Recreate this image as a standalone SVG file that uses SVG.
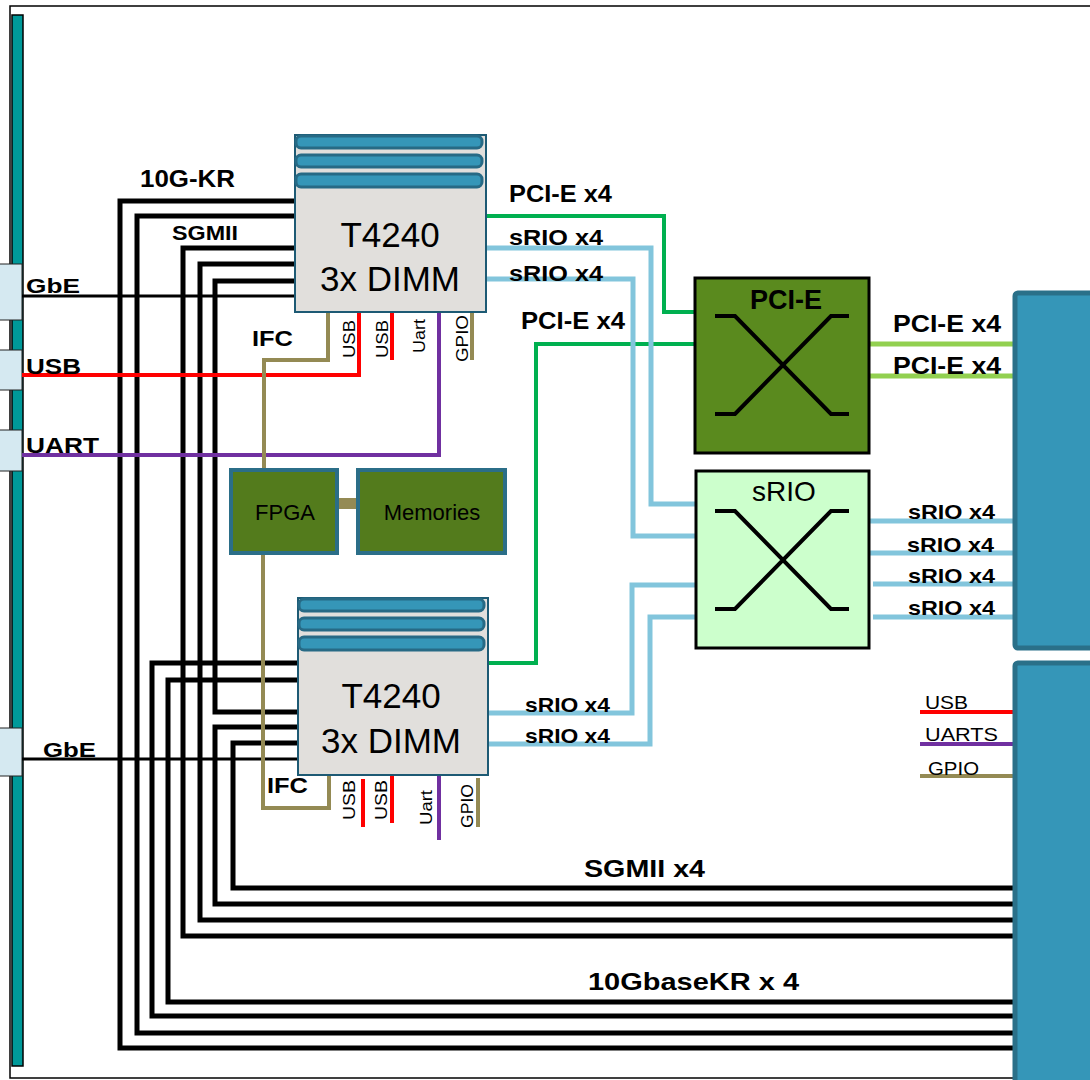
<svg xmlns="http://www.w3.org/2000/svg" width="1090" height="1080" viewBox="0 0 1090 1080">
<defs>
<style>
.lbl{font-family:"Liberation Sans",Arial,sans-serif;font-weight:bold;fill:#000}
.reg{font-family:"Liberation Sans",Arial,sans-serif;fill:#000}
.blk{fill:none;stroke:#000;stroke-width:5}
.gbe{fill:none;stroke:#000;stroke-width:3}
.red{fill:none;stroke:#ff0000;stroke-width:4}
.pur{fill:none;stroke:#7030a0;stroke-width:4}
.olv{fill:none;stroke:#948a54;stroke-width:4}
.grn{fill:none;stroke:#00b050;stroke-width:4}
.lgr{fill:none;stroke:#92d050;stroke-width:5}
.sri{fill:none;stroke:#82c5dc;stroke-width:5}
.cpu{fill:#e1dfdc;stroke:#1d5a74;stroke-width:2}
.dimm{fill:#3596b8;stroke:#276a85;stroke-width:3}
.fpga{fill:#537b1c;stroke:#2b6e88;stroke-width:4}
.conn{fill:#d5e9f1;stroke:#222;stroke-width:1}
.xsw{fill:none;stroke:#000;stroke-width:4}
.big{fill:#3596b8;stroke:#2a7089;stroke-width:5}
</style>
</defs>
<rect x="10" y="6" width="1090" height="1072" fill="#fff" stroke="#000" stroke-width="1.5"/>
<g id="backplane">
<rect x="12" y="15" width="11" height="1051" fill="#009999" stroke="#000" stroke-width="1.5"/>
<rect class="conn" x="-2" y="264" width="24" height="56"/>
<rect class="conn" x="-2" y="350" width="24" height="40"/>
<rect class="conn" x="-2" y="430" width="24" height="41"/>
<rect class="conn" x="-2" y="728" width="24" height="48"/>
</g>
<g id="connectors">
<path class="blk" d="M295,201 H120 V1048 H1015"/>
<path class="blk" d="M295,216 H137 V1033 H1015"/>
<path class="blk" d="M295,248 H183 V936 H1015"/>
<path class="blk" d="M295,264 H200 V920 H1015"/>
<path class="blk" d="M295,281 H215 V712 H298"/>
<path class="blk" d="M298,663 H152 V1016 H1015"/>
<path class="blk" d="M298,680 H168 V1002 H1015"/>
<path class="blk" d="M298,727 H215 V904 H1015"/>
<path class="blk" d="M298,743 H233 V888 H1015"/>
<path class="gbe" d="M22,296 H295"/>
<path class="gbe" d="M22,759 H298"/>
<path class="red" d="M22,375 H359 V312"/>
<path class="red" d="M392,312 V360"/>
<path class="red" d="M363,779 V827"/>
<path class="red" d="M392,775 V823"/>
<path class="pur" d="M22,455 H439 V312"/>
<path class="pur" d="M439,775 V840"/>
<path class="olv" d="M328,312 V360 H264 V470"/>
<path class="olv" d="M472,312 V360"/>
<path class="olv" d="M263,553 V808 H329 V775"/>
<path class="olv" d="M478,778 V827"/>
<rect x="337" y="498" width="21" height="11" fill="#948a54"/>
<path class="grn" d="M486,216 H664 V312 H695"/>
<path class="grn" d="M695,344 H536 V663 H488"/>
<path class="sri" d="M486,248 H651 V504 H695"/>
<path class="sri" d="M486,279 H633 V536 H695"/>
<path class="sri" d="M488,713 H632 V585 H695"/>
<path class="sri" d="M488,744 H650 V617 H695"/>
<path class="lgr" d="M869,344 H1015"/>
<path class="lgr" d="M869,376 H1015"/>
<path class="sri" d="M869,521 H1015"/>
<path class="sri" d="M869,553 H1015"/>
<path class="sri" d="M873,584 H1015"/>
<path class="sri" d="M873,617 H1015"/>
<path class="red" stroke-width="5" d="M920,712 H1015"/>
<path class="pur" stroke-width="5" d="M920,744 H1015"/>
<path class="olv" stroke-width="5" d="M920,776 H1015"/>
</g>
<g id="labels">
<text class="lbl" x="140" y="187" font-size="23" textLength="95" lengthAdjust="spacingAndGlyphs">10G-KR</text>
<text class="lbl" x="172" y="240" font-size="21" textLength="66" lengthAdjust="spacingAndGlyphs">SGMII</text>
<text class="lbl" x="26" y="293" font-size="21" textLength="54" lengthAdjust="spacingAndGlyphs">GbE</text>
<text class="lbl" x="26" y="374" font-size="22" textLength="55" lengthAdjust="spacingAndGlyphs">USB</text>
<text class="lbl" x="26" y="453" font-size="22" textLength="73" lengthAdjust="spacingAndGlyphs">UART</text>
<text class="lbl" x="252" y="346" font-size="22" textLength="41" lengthAdjust="spacingAndGlyphs">IFC</text>
<text class="lbl" x="43" y="757" font-size="21" textLength="53" lengthAdjust="spacingAndGlyphs">GbE</text>
<text class="lbl" x="267" y="793" font-size="22" textLength="41" lengthAdjust="spacingAndGlyphs">IFC</text>
<text class="lbl" x="509" y="202" font-size="23" textLength="103" lengthAdjust="spacingAndGlyphs">PCI-E x4</text>
<text class="lbl" x="509" y="245" font-size="22" textLength="94" lengthAdjust="spacingAndGlyphs">sRIO x4</text>
<text class="lbl" x="509" y="281" font-size="22" textLength="94" lengthAdjust="spacingAndGlyphs">sRIO x4</text>
<text class="lbl" x="521" y="329" font-size="23" textLength="104" lengthAdjust="spacingAndGlyphs">PCI-E x4</text>
<text class="lbl" x="893" y="332" font-size="23" textLength="108" lengthAdjust="spacingAndGlyphs">PCI-E x4</text>
<text class="lbl" x="893" y="374" font-size="23" textLength="108" lengthAdjust="spacingAndGlyphs">PCI-E x4</text>
<text class="lbl" x="908" y="519" font-size="21" textLength="87" lengthAdjust="spacingAndGlyphs">sRIO x4</text>
<text class="lbl" x="907" y="552" font-size="21" textLength="87" lengthAdjust="spacingAndGlyphs">sRIO x4</text>
<text class="lbl" x="908" y="583" font-size="21" textLength="87" lengthAdjust="spacingAndGlyphs">sRIO x4</text>
<text class="lbl" x="908" y="615" font-size="21" textLength="87" lengthAdjust="spacingAndGlyphs">sRIO x4</text>
<text class="lbl" x="525" y="712" font-size="21" textLength="85" lengthAdjust="spacingAndGlyphs">sRIO x4</text>
<text class="lbl" x="525" y="743" font-size="21" textLength="85" lengthAdjust="spacingAndGlyphs">sRIO x4</text>
<text class="lbl" x="584" y="877" font-size="24" textLength="121" lengthAdjust="spacingAndGlyphs">SGMII x4</text>
<text class="lbl" x="588" y="990" font-size="24" textLength="211" lengthAdjust="spacingAndGlyphs">10GbaseKR x 4</text>
<text class="reg" x="925" y="709" font-size="18" textLength="43" lengthAdjust="spacingAndGlyphs">USB</text>
<text class="reg" x="925" y="741" font-size="18" textLength="73" lengthAdjust="spacingAndGlyphs">UARTS</text>
<text class="reg" x="928" y="775" font-size="18" textLength="51" lengthAdjust="spacingAndGlyphs">GPIO</text>
<text class="reg" font-size="17" transform="translate(355,358) rotate(-90)" textLength="38" lengthAdjust="spacingAndGlyphs">USB</text>
<text class="reg" font-size="17" transform="translate(388,358) rotate(-90)" textLength="38" lengthAdjust="spacingAndGlyphs">USB</text>
<text class="reg" font-size="17" transform="translate(425,353) rotate(-90)" textLength="34" lengthAdjust="spacingAndGlyphs">Uart</text>
<text class="reg" font-size="17" transform="translate(468,362) rotate(-90)" textLength="47" lengthAdjust="spacingAndGlyphs">GPIO</text>
<text class="reg" font-size="17" transform="translate(355,820) rotate(-90)" textLength="40" lengthAdjust="spacingAndGlyphs">USB</text>
<text class="reg" font-size="17" transform="translate(387,820) rotate(-90)" textLength="40" lengthAdjust="spacingAndGlyphs">USB</text>
<text class="reg" font-size="17" transform="translate(432,825) rotate(-90)" textLength="35" lengthAdjust="spacingAndGlyphs">Uart</text>
<text class="reg" font-size="17" transform="translate(473,828) rotate(-90)" textLength="44" lengthAdjust="spacingAndGlyphs">GPIO</text>
</g>
<g id="cpu1">
<rect class="cpu" x="295" y="135" width="191" height="177"/>
<rect class="dimm" x="296" y="136" width="186" height="12" rx="5"/>
<rect class="dimm" x="296" y="155" width="186" height="12" rx="5"/>
<rect class="dimm" x="296" y="174" width="186" height="13" rx="5"/>
<text class="reg" x="390" y="247" font-size="35" text-anchor="middle">T4240</text>
<text class="reg" x="390" y="291" font-size="35" text-anchor="middle">3x DIMM</text>
</g>
<g id="cpu2">
<rect class="cpu" x="298" y="598" width="190" height="177"/>
<rect class="dimm" x="299" y="599" width="185" height="12" rx="5"/>
<rect class="dimm" x="299" y="618" width="185" height="12" rx="5"/>
<rect class="dimm" x="299" y="637" width="185" height="13" rx="5"/>
<text class="reg" x="391" y="708" font-size="35" text-anchor="middle">T4240</text>
<text class="reg" x="391" y="753" font-size="35" text-anchor="middle">3x DIMM</text>
</g>
<g id="fpga">
<rect class="fpga" x="231" y="470" width="106" height="83"/>
<text class="reg" x="285" y="520" font-size="22" text-anchor="middle">FPGA</text>
</g>
<g id="memories">
<rect class="fpga" x="358" y="470" width="147" height="83"/>
<text class="reg" x="432" y="520" font-size="22" text-anchor="middle">Memories</text>
</g>
<g id="pcie-switch">
<rect x="695" y="278" width="174" height="175" fill="#5a8a1e" stroke="#000" stroke-width="3"/>
<text class="lbl" x="786" y="309" font-size="27" text-anchor="middle">PCI-E</text>
<path class="xsw" d="M715,316 H735 L831,414 H849 M715,414 H735 L831,316 H849"/>
</g>
<g id="srio-switch">
<rect x="696" y="471" width="173" height="177" fill="#ccffcc" stroke="#000" stroke-width="3"/>
<text class="reg" x="784" y="501" font-size="28" text-anchor="middle">sRIO</text>
<path class="xsw" d="M715,511 H735 L831,609 H849 M715,609 H735 L831,511 H849"/>
</g>
<g id="board-upper">
<rect class="big" x="1015" y="293" width="90" height="355" rx="3"/>
</g>
<g id="board-lower">
<rect class="big" x="1015" y="663" width="90" height="430" rx="3"/>
</g>
</svg>
